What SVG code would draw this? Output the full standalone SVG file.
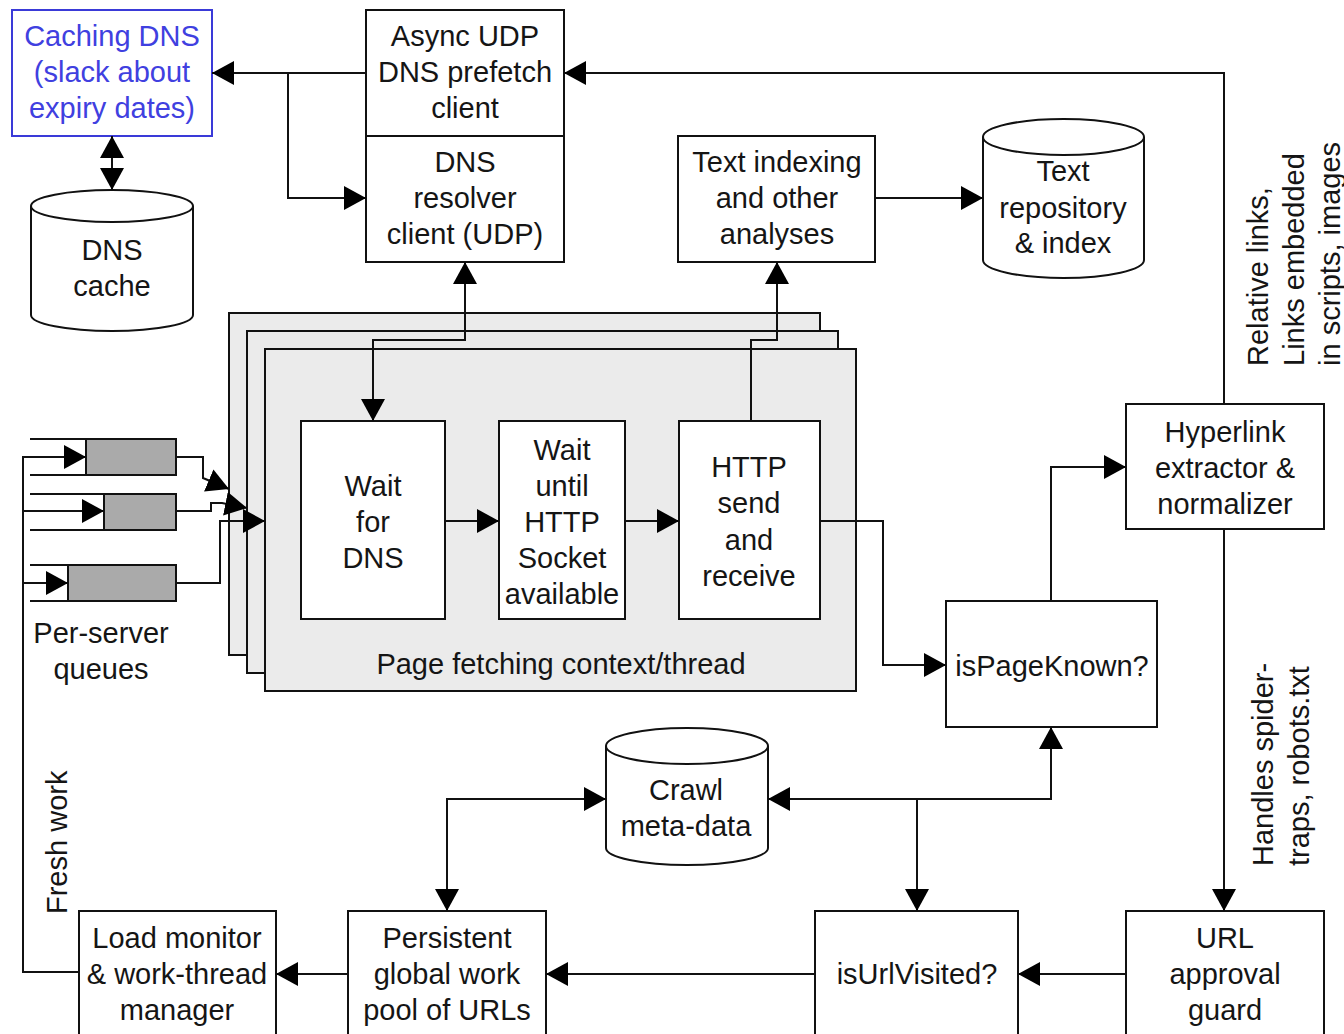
<svg xmlns="http://www.w3.org/2000/svg" width="1344" height="1034" viewBox="0 0 1344 1034">
<style>
text{font-family:"Liberation Sans",Arial,sans-serif;font-size:29px;fill:#151515;text-anchor:middle}
.b{fill:#fff;stroke:#111;stroke-width:2}
.s{fill:#ebebeb;stroke:#111;stroke-width:2}
.q{fill:#aaa;stroke:#111;stroke-width:2}
.c{fill:none;stroke:#111;stroke-width:2}
.r{text-anchor:start}
</style>
<defs>
<marker id="a" viewBox="0 0 22 24" refX="22" refY="12" markerWidth="22" markerHeight="24" markerUnits="userSpaceOnUse" orient="auto-start-reverse">
<path d="M0,0 L22,12 L0,24 z" fill="#000"/>
</marker>
</defs>
<rect width="1344" height="1034" fill="#fff"/>

<g id="page-fetch-stack">
<rect class="s" x="229" y="313" width="591" height="342"/>
<rect class="s" x="247" y="331" width="591" height="342"/>
<rect class="s" x="265" y="349" width="591" height="342"/>
<text x="561" y="674">Page fetching context/thread</text>
</g>

<g id="caching-dns">
<rect x="12" y="10" width="200" height="126" fill="#fff" stroke="#3a3ad8" stroke-width="2"/>
<text x="112" y="46" style="fill:#4040e0">Caching DNS</text>
<text x="112" y="82" style="fill:#4040e0">(slack about</text>
<text x="112" y="118" style="fill:#4040e0">expiry dates)</text>
</g>

<g id="dns-cache">
<path class="b" d="M31,206 V315 A81,16 0 0 0 193,315 V206"/>
<ellipse class="b" cx="112" cy="206" rx="81" ry="16"/>
<text x="112" y="260">DNS</text>
<text x="112" y="296">cache</text>
</g>

<g id="async-udp">
<rect class="b" x="366" y="10" width="198" height="126"/>
<text x="465" y="46">Async UDP</text>
<text x="465" y="82">DNS prefetch</text>
<text x="465" y="118">client</text>
</g>

<g id="dns-resolver">
<rect class="b" x="366" y="136" width="198" height="126"/>
<text x="465" y="172">DNS</text>
<text x="465" y="208">resolver</text>
<text x="465" y="244">client (UDP)</text>
</g>

<g id="text-indexing">
<rect class="b" x="678" y="136" width="197" height="126"/>
<text x="777" y="172">Text indexing</text>
<text x="777" y="208">and other</text>
<text x="777" y="244">analyses</text>
</g>

<g id="text-repository">
<path class="b" d="M983,137 V260 A80.5,18 0 0 0 1144,260 V137"/>
<ellipse class="b" cx="1063.5" cy="137" rx="80.5" ry="18"/>
<text x="1063" y="181">Text</text>
<text x="1063" y="218">repository</text>
<text x="1063" y="253">&amp; index</text>
</g>

<g id="wait-dns">
<rect class="b" x="301" y="421" width="144" height="198"/>
<text x="373" y="496">Wait</text>
<text x="373" y="532">for</text>
<text x="373" y="568">DNS</text>
</g>

<g id="wait-socket">
<rect class="b" x="499" y="421" width="126" height="198"/>
<text x="562" y="460">Wait</text>
<text x="562" y="496">until</text>
<text x="562" y="532">HTTP</text>
<text x="562" y="568">Socket</text>
<text x="562" y="604">available</text>
</g>

<g id="http-send">
<rect class="b" x="679" y="421" width="141" height="198"/>
<text x="749" y="477">HTTP</text>
<text x="749" y="513">send</text>
<text x="749" y="550">and</text>
<text x="749" y="586">receive</text>
</g>

<g id="hyperlink-extractor">
<rect class="b" x="1126" y="404" width="198" height="125"/>
<text x="1225" y="442">Hyperlink</text>
<text x="1225" y="478">extractor &amp;</text>
<text x="1225" y="514">normalizer</text>
</g>

<g id="is-page-known">
<rect class="b" x="946" y="601" width="211" height="126"/>
<text x="1052" y="676">isPageKnown?</text>
</g>

<g id="crawl-metadata">
<path class="b" d="M606,746 V848 A81,17 0 0 0 768,848 V746"/>
<ellipse class="b" cx="687" cy="746" rx="81" ry="18"/>
<text x="686" y="800">Crawl</text>
<text x="686" y="836">meta-data</text>
</g>

<g id="load-monitor">
<rect class="b" x="79" y="911" width="197" height="140"/>
<text x="177" y="948">Load monitor</text>
<text x="177" y="984">&amp; work-thread</text>
<text x="177" y="1020">manager</text>
</g>

<g id="global-work-pool">
<rect class="b" x="348" y="911" width="198" height="140"/>
<text x="447" y="948">Persistent</text>
<text x="447" y="984">global work</text>
<text x="447" y="1020">pool of URLs</text>
</g>

<g id="is-url-visited">
<rect class="b" x="815" y="911" width="203" height="140"/>
<text x="917" y="984">isUrlVisited?</text>
</g>

<g id="url-approval-guard">
<rect class="b" x="1126" y="911" width="198" height="140"/>
<text x="1225" y="948">URL</text>
<text x="1225" y="984">approval</text>
<text x="1225" y="1020">guard</text>
</g>

<g id="per-server-queues">
<path class="c" d="M30,439 H176 M30,475 H176"/>
<rect class="q" x="86" y="439" width="90" height="36"/>
<path class="c" d="M30,494 H176 M30,530 H176"/>
<rect class="q" x="104" y="494" width="72" height="36"/>
<path class="c" d="M30,565 H176 M30,601 H176"/>
<rect class="q" x="68" y="565" width="108" height="36"/>
<text x="101" y="643">Per-server</text>
<text x="101" y="679">queues</text>
</g>

<g id="connectors" class="c">
<path class="c" d="M366,73 H212" marker-end="url(#a)"/>
<path class="c" d="M288,73 V198 H366" marker-end="url(#a)"/>
<path class="c" d="M112,136 V190" marker-start="url(#a)" marker-end="url(#a)"/>
<path class="c" d="M1224,404 V73 H564" marker-end="url(#a)"/>
<path class="c" d="M465,262 V340 H373 V421" marker-start="url(#a)" marker-end="url(#a)"/>
<path class="c" d="M751,421 V340 H777 V262" marker-end="url(#a)"/>
<path class="c" d="M875,198 H983" marker-end="url(#a)"/>
<path class="c" d="M445,521 H499" marker-end="url(#a)"/>
<path class="c" d="M625,521 H679" marker-end="url(#a)"/>
<path class="c" d="M820,521 H883 V665 H946" marker-end="url(#a)"/>
<path class="c" d="M1051,601 V467 H1126" marker-end="url(#a)"/>
<path class="c" d="M1224,529 V911" marker-end="url(#a)"/>
<path class="c" d="M1126,974 H1018" marker-end="url(#a)"/>
<path class="c" d="M815,974 H546" marker-end="url(#a)"/>
<path class="c" d="M348,974 H276" marker-end="url(#a)"/>
<path class="c" d="M447,911 V799 H606" marker-start="url(#a)" marker-end="url(#a)"/>
<path class="c" d="M1051,727 V799 H768" marker-start="url(#a)" marker-end="url(#a)"/>
<path class="c" d="M917,799 V911" marker-end="url(#a)"/>
<path class="c" d="M79,972 H23 V457 H86" stroke-width="3" marker-end="url(#a)"/>
<path class="c" d="M23,511 H104" marker-end="url(#a)"/>
<path class="c" d="M23,583 H68" marker-end="url(#a)"/>
<path class="c" d="M176,457 H203 V478 L229,489" marker-end="url(#a)"/>
<path class="c" d="M176,511 H211 V503 H222 L247,508" marker-end="url(#a)"/>
<path class="c" d="M176,583 H220 V521 H265" marker-end="url(#a)"/>
</g>

<g id="labels">
<text class="r" transform="translate(1268,366) rotate(-90)">Relative links,</text>
<text class="r" transform="translate(1304,366) rotate(-90)">Links embedded</text>
<text class="r" transform="translate(1340,366) rotate(-90)">in scripts, images</text>
<text class="r" transform="translate(1273,866) rotate(-90)">Handles spider-</text>
<text class="r" transform="translate(1309,866) rotate(-90)">traps, robots.txt</text>
<text class="r" transform="translate(67,914) rotate(-90)">Fresh work</text>
</g>
</svg>
